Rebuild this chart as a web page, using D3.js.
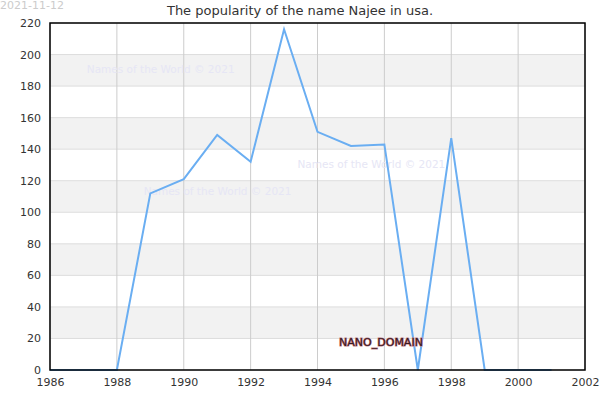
<!DOCTYPE html>
<html>
<head>
<meta charset="utf-8">
<script src="https://cdn.jsdelivr.net/npm/d3@7"></script>
<style>
  body { margin: 0; background: #fff; }
  text { font-family: "DejaVu Sans", sans-serif; }
</style>
</head>
<body>
<svg id="chart" width="600" height="400"></svg>
<script>
// yearly counts for the name
const years = [1986, 1987, 1988, 1989, 1990, 1991, 1992, 1993, 1994, 1995, 1996, 1997, 1998, 1999, 2000, 2001];
const counts = [0, 0, 0, 112, 121, 149, 132, 216, 151, 142, 143, 0, 147, 0, 0, 0];
const xTicks = [1986, 1988, 1990, 1992, 1994, 1996, 1998, 2000, 2002];
const yTicks = [0, 20, 40, 60, 80, 100, 120, 140, 160, 180, 200, 220];
const watermarks = [[1987.1, 188], [1988.8, 111], [1993.4, 128]];

let svg = d3.select("#chart");
let margin = {top: 23, right: 15, bottom: 30, left: 50};
let width = 600 - margin.left - margin.right;
let height = 400 - margin.top - margin.bottom;

let x = d3.scaleLinear().domain([1986, 2002]).range([0, width]);
let y = d3.scaleLinear().domain([0, 220]).range([height, 0]);

let g = svg.append("g").attr("transform", `translate(${margin.left},${margin.top})`);

// alternating bands
let bands = d3.range(0, 220, 20).filter(v => (v / 20) % 2 == 1);
g.selectAll("rect.band").data(bands)
  .join("rect")
  .attr("class", "band")
  .attr("x", 0)
  .attr("width", width)
  .attr("y", d => y(d + 20))
  .attr("height", d => y(d) - y(d + 20))
  .attr("fill", "#f2f2f2");

// grid
g.selectAll("line.hgrid").data(yTicks)
  .join("line")
  .attr("class", "hgrid")
  .attr("x1", 0).attr("x2", width)
  .attr("y1", d => y(d)).attr("y2", d => y(d))
  .attr("stroke", "#dddddd");

g.selectAll("line.vgrid").data(xTicks)
  .join("line")
  .attr("class", "vgrid")
  .attr("x1", d => x(d)).attr("x2", d => x(d))
  .attr("y1", 0).attr("y2", height)
  .attr("stroke", "#cccccc");

// watermark text
g.selectAll("text.wm").data(watermarks)
  .join("text")
  .attr("class", "wm")
  .attr("x", d => x(d[0]))
  .attr("y", d => y(d[1]))
  .attr("font-size", 10.5)
  .attr("fill", "#e6e6f5")
  .text("Names of the World © 2021");

// the line
let line = d3.line().x((d, i) => x(years[i])).y(d => y(d));
g.append("path")
  .datum(counts)
  .attr("d", line)
  .attr("fill", "none")
  .attr("stroke", "#6aaef2")
  .attr("stroke-width", 2);

// frame
g.append("rect")
  .attr("width", width).attr("height", height)
  .attr("fill", "none").attr("stroke", "#000").attr("stroke-width", 1.5);

// axes
let xAxis = g.append("g").attr("transform", `translate(0,${height})`)
  .call(d3.axisBottom(x).tickValues(xTicks).tickFormat(d3.format("d")).tickSize(0).tickPadding(8));
let yAxis = g.append("g")
  .call(d3.axisLeft(y).tickValues(yTicks).tickSize(0).tickPadding(9));
[xAxis, yAxis].forEach(a => {
  a.select(".domain").remove();
  a.selectAll("text").attr("font-size", 11).attr("fill", "#333").style("font-family", "DejaVu Sans");
});

// title and date
svg.append("text")
  .attr("x", 300).attr("y", 15)
  .attr("text-anchor", "middle")
  .attr("font-size", 13)
  .attr("fill", "#333")
  .text("The popularity of the name Najee in usa.");

svg.append("text")
  .attr("x", 0).attr("y", 9)
  .attr("font-size", 11)
  .attr("fill", "#cccccc")
  .text("2021-11-12");

svg.append("text")
  .attr("x", 381).attr("y", 346)
  .attr("text-anchor", "middle")
  .attr("font-size", 11)
  .attr("fill", "#3a1a20")
  .attr("stroke", "#c07a85")
  .attr("stroke-width", 1.2)
  .attr("paint-order", "stroke")
  .text("NANO_DOMAIN");
</script>
</body>
</html>
